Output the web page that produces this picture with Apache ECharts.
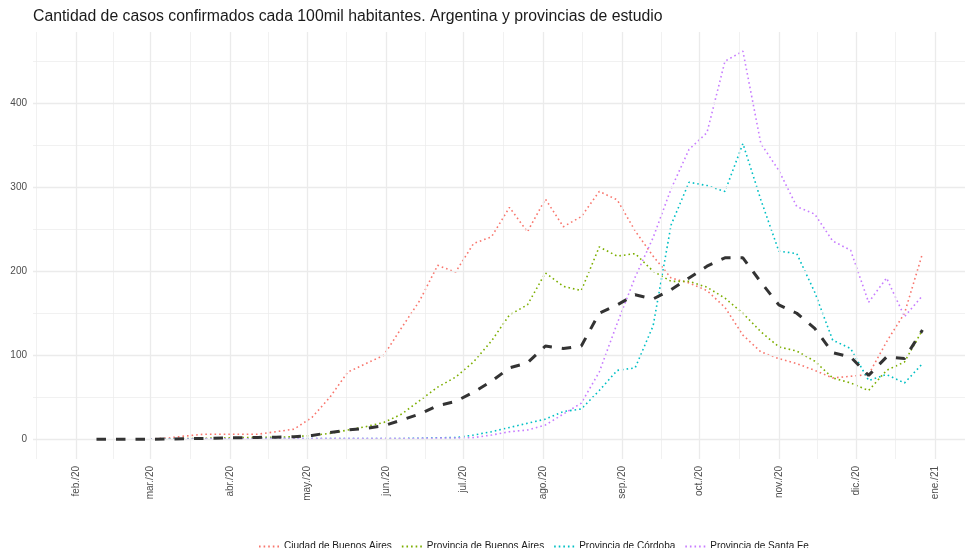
<!DOCTYPE html>
<html>
<head>
<meta charset="utf-8">
<script src="https://cdn.jsdelivr.net/npm/echarts@6.0.0/dist/echarts.min.js"></script>
<style>
  html, body { margin: 0; padding: 0; background: #fff; }
  #casos { width: 967px; height: 548px; }
</style>
</head>
<body>
<div id="casos"></div>
<script>
// semanas epidemiologicas (domingos)
var fechas = ['2020-02-09','2020-02-16','2020-02-23','2020-03-01','2020-03-08','2020-03-15','2020-03-22','2020-03-29',
  '2020-04-05','2020-04-12','2020-04-19','2020-04-26','2020-05-03','2020-05-10','2020-05-17','2020-05-24','2020-05-31',
  '2020-06-07','2020-06-14','2020-06-21','2020-06-28','2020-07-05','2020-07-12','2020-07-19','2020-07-26',
  '2020-08-02','2020-08-09','2020-08-16','2020-08-23','2020-08-30','2020-09-06','2020-09-13','2020-09-20','2020-09-27',
  '2020-10-04','2020-10-11','2020-10-18','2020-10-25','2020-11-01','2020-11-08','2020-11-15','2020-11-22','2020-11-29',
  '2020-12-06','2020-12-13','2020-12-20','2020-12-27'];

var argentina = [0, 0, 0, 0.1, 0.3, 0.7, 1, 1.5, 1.8, 2.2, 2.5, 3, 4.5, 8, 11, 13, 16, 23, 30, 40, 45, 56, 69, 85, 91,
  111, 108, 111, 150, 160, 172, 167, 178, 192, 206, 216, 216, 187, 160, 150, 132, 103, 98, 76, 98, 96, 130];

var ciudadBA = [null, null, null, 0.3, 1.5, 4, 6, 6, 6, 6, 9, 12, 26, 50, 80, 90, 100, 133, 165, 207, 199, 233, 241, 276, 247,
  286, 253, 265, 295, 285, 248, 218, 192, 186, 177, 157, 124, 104, 96, 90, 82, 73, 75, 77, 116, 150, 221];

var provinciaBA = [null, null, null, 0, 0.3, 0.8, 1.2, 1.5, 2, 2, 2.5, 3, 4.5, 7, 11, 15, 20, 30, 46, 62, 74, 92, 117, 148, 160,
  198, 182, 177, 229, 218, 221, 200, 188, 188, 181, 168, 150, 128, 110, 105, 93, 73, 67, 58, 82, 92, 130];

var cordoba = [null, null, null, 0, 0.1, 0.3, 0.5, 0.5, 0.6, 0.7, 0.8, 0.8, 0.8, 0.8, 0.8, 0.8, 0.8, 0.9, 1.2, 1.8, 2, 5, 9, 14, 19,
  24, 33, 36, 58, 82, 85, 135, 255, 306, 302, 295, 352, 285, 224, 221, 175, 118, 108, 70, 77, 67, 90];

var santaFe = [null, null, null, 0, 0, 0.2, 0.4, 0.5, 0.6, 0.7, 0.7, 0.8, 0.8, 0.8, 0.8, 0.8, 0.8, 0.9, 1, 1.3, 1.5, 2, 5, 9, 11,
  17, 30, 43, 80, 138, 193, 240, 298, 345, 365, 450, 462, 352, 320, 277, 268, 236, 225, 163, 192, 146, 171];

// marcas del eje x
var inicioMeses = ['2020-02-01','2020-03-01','2020-04-01','2020-05-01','2020-06-01','2020-07-01','2020-08-01',
  '2020-09-01','2020-10-01','2020-11-01','2020-12-01','2021-01-01'];
var etiquetasMeses = ['feb./20','mar./20','abr./20','may./20','jun./20','jul./20','ago./20',
  'sep./20','oct./20','nov./20','dic./20','ene./21'];
var marcasY = [0, 100, 200, 300, 400];
var marcasYmenores = [50, 150, 250, 350, 450];

function ts(s) {
  var p = s.split('-');
  return Date.UTC(+p[0], +p[1] - 1, +p[2]);
}

var mesesTs = inicioMeses.map(ts);
var etiquetaPorTs = {};
mesesTs.forEach(function (t, i) { etiquetaPorTs[t] = etiquetasMeses[i]; });

// lineas menores a mitad de mes
var bordes = [ts('2020-01-01')].concat(mesesTs);
var menoresX = [];
for (var i = 0; i < bordes.length - 1; i++) menoresX.push((bordes[i] + bordes[i + 1]) / 2);

function serie(vals) {
  return fechas.map(function (f, i) { return [ts(f), vals[i]]; });
}

var grisGrilla = '#EBEBEB';
var lineasGrilla = []
  .concat(menoresX.map(function (t) { return { xAxis: t, lineStyle: { color: grisGrilla, width: 0.7, type: 'solid' } }; }))
  .concat(mesesTs.map(function (t) { return { xAxis: t, lineStyle: { color: grisGrilla, width: 1.3, type: 'solid' } }; }))
  .concat(marcasYmenores.map(function (v) { return { yAxis: v, lineStyle: { color: grisGrilla, width: 0.7, type: 'solid' } }; }))
  .concat(marcasY.map(function (v) { return { yAxis: v, lineStyle: { color: grisGrilla, width: 1.3, type: 'solid' } }; }));

var fuente = 'Liberation Sans, Arial, Helvetica, sans-serif';
var punteado = [1.6, 3];

function provincia(nombre, vals, color) {
  return {
    name: nombre,
    type: 'line',
    data: serie(vals),
    showSymbol: false,
    symbol: 'none',
    connectNulls: false,
    z: 3,
    itemStyle: { color: color },
    lineStyle: { color: color, width: 1.6, type: punteado, cap: 'butt' }
  };
}

var chart = echarts.init(document.getElementById('casos'), null, { renderer: 'canvas' });

var option = {
  animation: false,
  backgroundColor: '#ffffff',
  textStyle: { fontFamily: fuente },
  title: {
    text: 'Cantidad de casos confirmados cada 100mil habitantes. Argentina y provincias de estudio',
    left: 28,
    top: 4,
    textStyle: { fontFamily: fuente, fontSize: 15.8, fontWeight: 'normal', color: '#1a1a1a' }
  },
  legend: {
    data: ['Ciudad de Buenos Aires', 'Provincia de Buenos Aires', 'Provincia de Córdoba', 'Provincia de Santa Fe'],
    left: 253,
    top: 536,
    itemWidth: 22,
    itemHeight: 14,
    itemGap: 9,
    itemStyle: { opacity: 0 },
    textStyle: { fontFamily: fuente, fontSize: 10, color: '#1a1a1a', padding: [0, 0, 0, -2] }
  },
  grid: { left: 33, right: 2, top: 32, bottom: 89, containLabel: false, outerBoundsMode: 'none' },
  xAxis: {
    type: 'value',
    min: Date.UTC(2020, 0, 15, 6),
    max: Date.UTC(2021, 0, 12, 14),
    axisLine: { show: false },
    axisTick: { show: false },
    splitLine: { show: false },
    axisLabel: {
      customValues: mesesTs,
      rotate: 90,
      margin: 7,
      fontSize: 10,
      color: '#4d4d4d',
      fontFamily: fuente,
      formatter: function (v) { return etiquetaPorTs[v] || ''; }
    }
  },
  yAxis: {
    type: 'value',
    min: -23.5,
    max: 484.8,
    axisLine: { show: false },
    axisTick: { show: false },
    splitLine: { show: false },
    axisLabel: {
      customValues: marcasY,
      margin: 6,
      fontSize: 10,
      color: '#4d4d4d',
      fontFamily: fuente
    }
  },
  series: [
    {
      name: 'grilla',
      type: 'line',
      data: [],
      z: 0,
      silent: true,
      markLine: {
        silent: true,
        symbol: ['none', 'none'],
        label: { show: false },
        emphasis: { disabled: true },
        animation: false,
        data: lineasGrilla
      }
    },
    provincia('Ciudad de Buenos Aires', ciudadBA, '#F8766D'),
    provincia('Provincia de Buenos Aires', provinciaBA, '#7CAE00'),
    provincia('Provincia de Córdoba', cordoba, '#00BFC4'),
    provincia('Provincia de Santa Fe', santaFe, '#C77CFF'),
    {
      name: 'Argentina',
      type: 'line',
      data: serie(argentina),
      showSymbol: false,
      symbol: 'none',
      z: 5,
      itemStyle: { color: '#333333' },
      lineStyle: { color: '#333333', width: 3, type: [9.5, 10], cap: 'butt' }
    }
  ]
};

chart.setOption(option);
</script>
</body>
</html>
